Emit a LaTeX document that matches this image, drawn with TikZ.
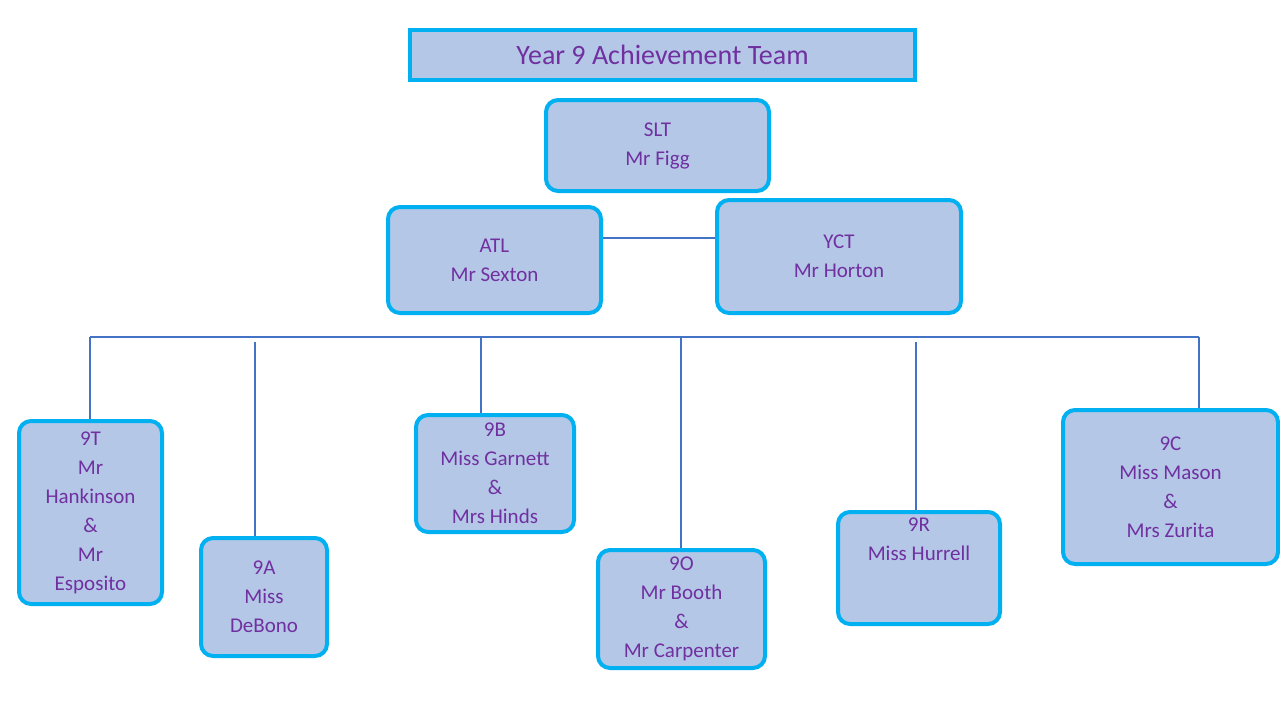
\documentclass[tikz,border=0pt]{standalone}
\usepackage{fontspec}
\setmainfont{Carlito}
\definecolor{boxfill}{HTML}{B4C7E7}
\definecolor{boxline}{HTML}{00B0F0}
\definecolor{txt}{HTML}{7030A0}
\definecolor{conn}{HTML}{4472C4}
\begin{document}
\begin{tikzpicture}[x=1pt,y=-1pt,
  box/.style={draw=boxline,fill=boxfill,line width=4pt,rounded corners=12pt,text=txt,align=center,font=\fontsize{21}{29}\selectfont,inner sep=0pt},
  conline/.style={draw=conn,line width=1.6pt}]
\useasboundingbox (0,0) rectangle (1280,720);
\newcommand{\bx}[6]{\node[box,minimum width={#4-#2},minimum height={#5-#3}] (#1) at ({(#2+#4)/2},{(#3+#5)/2}) {#6};}
\node[box,rounded corners=0pt,minimum width=505,minimum height=50,font=\fontsize{28}{32}\selectfont] (title) at (662.5,55) {Year 9 Achievement Team};
\bx{slt}{546}{100}{769}{191}{SLT\\Mr Figg}
\bx{atl}{388}{207}{601}{313}{ATL\\Mr Sexton}
\bx{yct}{717}{200}{961}{313}{YCT\\Mr Horton}
\bx{t}{19}{421}{162}{604}{9T\\Mr\\Hankinson\\\&\\Mr\\Esposito}
\bx{a}{201}{538}{327}{656}{9A\\Miss\\DeBono}
\bx{b}{416}{415}{574}{532}{9B\\Miss Garnett\\\&\\Mrs Hinds}
\bx{o}{598}{550}{765}{668}{9O\\Mr Booth\\\&\\Mr Carpenter}
\bx{r}{838}{512}{1000}{624}{9R\\Miss Hurrell\\[29pt]}
\bx{c}{1063}{410}{1278}{564}{9C\\Miss Mason\\\&\\Mrs Zurita}
\draw[conline] (atl.east |- 0,238) -- (yct.west |- 0,238);
\coordinate (bl) at (90,337);
\coordinate (br) at (1199,337);
\coordinate (c9a) at (255,342);
\coordinate (c9b) at (481,337);
\coordinate (c9o) at (681,337);
\coordinate (c9r) at (916,342);
\draw[conline] (bl) -- (br);
\draw[conline] (bl) -- (bl |- t.north);
\draw[conline] (c9a) -- (c9a |- a.north);
\draw[conline] (c9b) -- (c9b |- b.north);
\draw[conline] (c9o) -- (c9o |- o.north);
\draw[conline] (c9r) -- (c9r |- r.north);
\draw[conline] (br) -- (br |- c.north);
\end{tikzpicture}
\end{document}
